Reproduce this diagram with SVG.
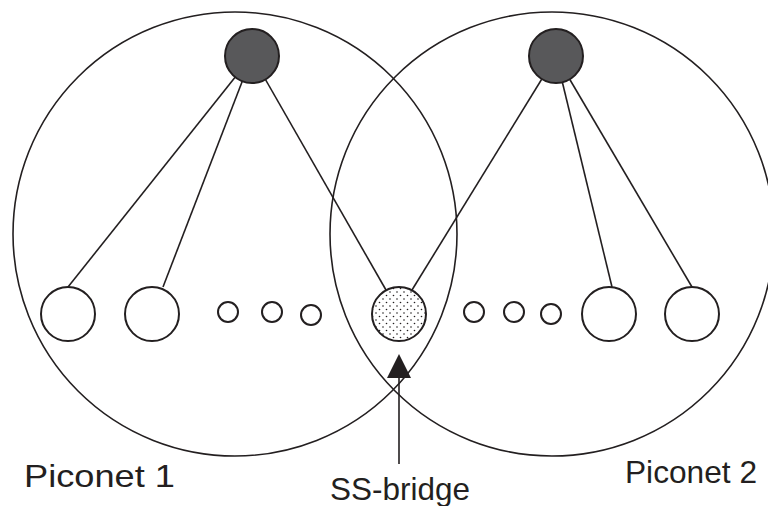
<svg xmlns="http://www.w3.org/2000/svg" width="768" height="506" viewBox="0 0 768 506">
  <style>
    .net { fill: none; stroke: #231f20; stroke-width: 1.6; }
    .link { stroke: #231f20; stroke-width: 1.6; fill: none; }
    .master { fill: #58585a; stroke: #231f20; stroke-width: 2; }
    .slave { fill: #ffffff; stroke: #231f20; stroke-width: 2; }
    .bridge { fill: url(#dots); stroke: #231f20; stroke-width: 2; }
    .label { font-family: "Liberation Sans", Arial, sans-serif; font-size: 32px; fill: #231f20; }
  </style>
  <defs>
    <pattern id="dots" width="7" height="7" patternUnits="userSpaceOnUse">
      <rect width="7" height="7" fill="#ffffff"/>
      <circle cx="1.5" cy="1.5" r="0.8" fill="#231f20"/>
      <circle cx="5" cy="5" r="0.8" fill="#231f20"/>
    </pattern>
  </defs>

  <!-- piconet boundaries -->
  <g id="piconet-1-area"><circle class="net" cx="235" cy="234" r="222"/></g>
  <g id="piconet-2-area"><circle class="net" cx="552" cy="234" r="222"/></g>

  <!-- master-to-slave links and the bridge pointer -->
  <g id="connectors">
    <line class="link" x1="252" y1="56" x2="68" y2="287"/>
    <line class="link" x1="252" y1="56" x2="163" y2="287"/>
    <line class="link" x1="252" y1="56" x2="386" y2="290"/>
    <line class="link" x1="556" y1="56" x2="412" y2="290"/>
    <line class="link" x1="556" y1="56" x2="612" y2="287"/>
    <line class="link" x1="556" y1="56" x2="692" y2="287"/>
    <line class="link" x1="399" y1="376" x2="399" y2="464"/>
    <polygon points="399,354 387,378 411,378" fill="#231f20"/>
  </g>

  <g id="master-1"><circle class="master" cx="252" cy="56" r="27"/></g>
  <g id="master-2"><circle class="master" cx="556" cy="56" r="27"/></g>

  <g id="slave-1a"><circle class="slave" cx="68" cy="314" r="27"/></g>
  <g id="slave-1b"><circle class="slave" cx="152" cy="314" r="27"/></g>
  <g id="slave-1-more">
    <circle class="slave" cx="228" cy="312" r="10"/>
    <circle class="slave" cx="272" cy="312" r="10"/>
    <circle class="slave" cx="311" cy="315" r="10"/>
  </g>

  <g id="ss-bridge"><circle class="bridge" cx="399" cy="314" r="27"/></g>

  <g id="slave-2-more">
    <circle class="slave" cx="474" cy="312" r="10"/>
    <circle class="slave" cx="514" cy="312" r="10"/>
    <circle class="slave" cx="551" cy="314" r="10"/>
  </g>
  <g id="slave-2a"><circle class="slave" cx="609" cy="314" r="27"/></g>
  <g id="slave-2b"><circle class="slave" cx="692" cy="314" r="27"/></g>

  <g id="labels">
    <text class="label" x="24" y="487" textLength="151" lengthAdjust="spacingAndGlyphs">Piconet 1</text>
    <text class="label" x="330" y="500" textLength="140" lengthAdjust="spacingAndGlyphs">SS-bridge</text>
    <text class="label" x="625" y="483" textLength="132" lengthAdjust="spacingAndGlyphs">Piconet 2</text>
  </g>
</svg>
